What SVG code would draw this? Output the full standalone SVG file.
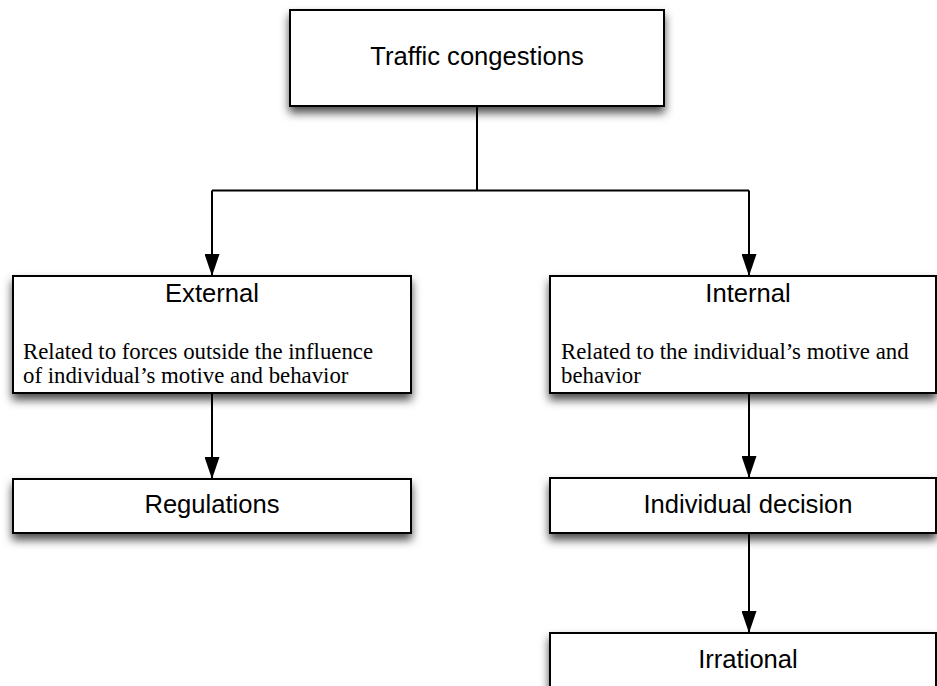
<svg xmlns="http://www.w3.org/2000/svg" width="937" height="686" viewBox="0 0 937 686">
<defs>
<filter id="sh" x="-10%" y="-20%" width="120%" height="170%">
<feDropShadow dx="0" dy="6" stdDeviation="5" flood-color="#000" flood-opacity="0.7"/>
</filter>
<marker id="ah" markerWidth="22" markerHeight="15" refX="22" refY="7.5" orient="auto" markerUnits="userSpaceOnUse" viewBox="0 0 22 15">
<path d="M0,0 L22,7.5 L0,15 Z" fill="#000"/>
</marker>
</defs>
<style>
.box{fill:#fff;stroke:#000;stroke-width:2;filter:url(#sh)}
.t{font-family:"Liberation Sans",Arial,Helvetica,sans-serif;font-size:25.6px;fill:#000;text-anchor:middle}
.s{font-family:"Liberation Serif","Times New Roman",serif;font-size:22.8px;fill:#000}
.c{fill:none;stroke:#000;stroke-width:2}
</style>
<rect width="937" height="686" fill="#fff"/>
<g id="connectors">
<path class="c" d="M477,106 V190.5"/>
<path class="c" d="M212,190.5 H749"/>
<path class="c" d="M212,190.5 V276" marker-end="url(#ah)"/>
<path class="c" d="M749,190.5 V276" marker-end="url(#ah)"/>
<path class="c" d="M212,393 V479" marker-end="url(#ah)"/>
<path class="c" d="M749,393 V478" marker-end="url(#ah)"/>
<path class="c" d="M749,533 V633" marker-end="url(#ah)"/>
</g>
<g id="traffic">
<rect class="box" x="290" y="10" width="374" height="96"/>
<text class="t" x="477" y="65">Traffic congestions</text>
</g>
<g id="external">
<rect class="box" x="13" y="276" width="398" height="117"/>
<text class="t" x="212" y="302">External</text>
<text class="s" x="23" y="359">Related to forces outside the influence</text>
<text class="s" x="23" y="383">of individual’s motive and behavior</text>
</g>
<g id="internal">
<rect class="box" x="550" y="276" width="386" height="117"/>
<text class="t" x="748" y="302">Internal</text>
<text class="s" x="561" y="359">Related to the individual’s motive and</text>
<text class="s" x="561" y="383">behavior</text>
</g>
<g id="regulations">
<rect class="box" x="13" y="479" width="398" height="54"/>
<text class="t" x="212" y="513">Regulations</text>
</g>
<g id="decision">
<rect class="box" x="550" y="478" width="386" height="55"/>
<text class="t" x="748" y="513">Individual decision</text>
</g>
<g id="irrational">
<rect class="box" x="550" y="633" width="386" height="70"/>
<text class="t" x="748" y="668">Irrational</text>
</g>
</svg>
